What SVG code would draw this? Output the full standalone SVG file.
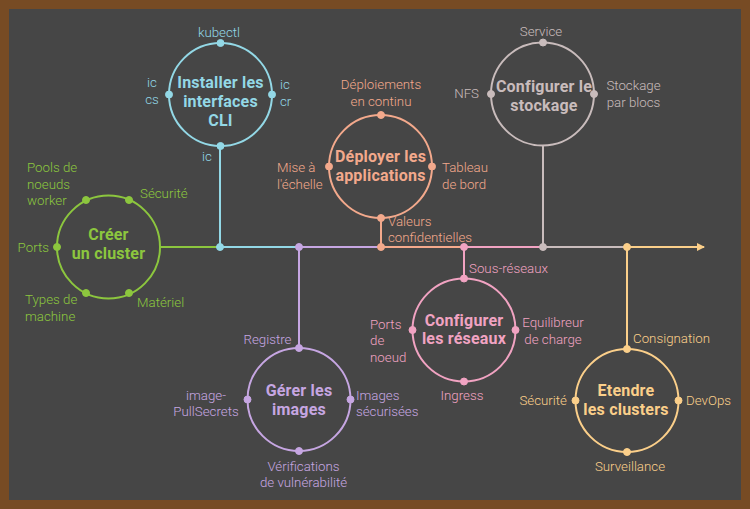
<svg xmlns="http://www.w3.org/2000/svg" width="750" height="509" viewBox="0 0 750 509">
<defs>
<style>
.lbl{font-family:Roboto,"Liberation Sans",sans-serif;font-size:13.3px;font-weight:300}
.ttl{font-family:Roboto,"Liberation Sans",sans-serif;font-size:16px;letter-spacing:0.2px;font-weight:bold;text-anchor:middle}
.ring{fill:none;stroke-width:2}
.ln{fill:none;stroke-width:2}
.m{text-anchor:middle}.e{text-anchor:end}
.cy{fill:#93d8e6;stroke:#93d8e6}.gr{fill:#8cc63e;stroke:#8cc63e}.or{fill:#f3a98c;stroke:#f3a98c}
.gy{fill:#c9bcbc;stroke:#c9bcbc}.lv{fill:#c6a6e2;stroke:#c6a6e2}.pk{fill:#f1a3c2;stroke:#f1a3c2}.yl{fill:#fbcf8a;stroke:#fbcf8a}
text{stroke:none}
</style>
<marker id="arr" viewBox="0 0 8 8" refX="7" refY="4" markerWidth="8" markerHeight="8" markerUnits="userSpaceOnUse" orient="auto">
<path d="M0,0 L8,4 L0,8 Z" fill="#fbcf8a"/>
</marker>
</defs>
<rect x="0" y="0" width="750" height="509" fill="#774b24"/>
<rect x="9" y="9" width="732" height="491" fill="#464646"/>

<g id="connectors">
<line class="ln gr" x1="160" y1="247" x2="220" y2="247"/>
<line class="ln cy" x1="220" y1="247" x2="299" y2="247"/>
<line class="ln lv" x1="299" y1="247" x2="381" y2="247"/>
<line class="ln or" x1="381" y1="247" x2="464" y2="247"/>
<line class="ln pk" x1="464" y1="247" x2="543" y2="247"/>
<line class="ln gy" x1="543" y1="247" x2="627" y2="247"/>
<line class="ln yl" x1="627" y1="247" x2="704" y2="247" marker-end="url(#arr)"/>
<line class="ln cy" x1="220" y1="146" x2="220" y2="247"/>
<line class="ln or" x1="381" y1="218" x2="381" y2="247"/>
<line class="ln gy" x1="543" y1="146" x2="543" y2="247"/>
<line class="ln lv" x1="299" y1="247" x2="299" y2="348"/>
<line class="ln pk" x1="464" y1="247" x2="464" y2="278"/>
<line class="ln yl" x1="627" y1="247" x2="627" y2="349"/>
<circle class="cy" cx="220" cy="247" r="3.5"/>
<circle class="lv" cx="299" cy="247" r="3.5"/>
<circle class="or" cx="381" cy="247" r="3.5"/>
<circle class="pk" cx="464" cy="247" r="3.5"/>
<circle class="gy" cx="543" cy="247" r="3.5"/>
<circle class="yl" cx="627" cy="247" r="3.5"/>
</g>

<g id="node-creer-cluster" class="gr">
<circle class="ring" cx="108.5" cy="247" r="51.5"/>
<circle cx="86" cy="200" r="3.5"/><circle cx="129" cy="200" r="3.5"/><circle cx="57" cy="247" r="3.5"/>
<circle cx="86" cy="293" r="3.5"/><circle cx="129" cy="293" r="3.5"/>
<text class="ttl" x="108.5" y="239.5">Créer</text>
<text class="ttl" x="108.5" y="258.5">un cluster</text>
<text class="lbl" x="27" y="171.5">Pools de</text>
<text class="lbl" x="27" y="188.5">noeuds</text>
<text class="lbl" x="27" y="204.5">worker</text>
<text class="lbl" x="140" y="197.5">Sécurité</text>
<text class="lbl e" x="49" y="251.5">Ports</text>
<text class="lbl" x="25" y="303.5">Types de</text>
<text class="lbl" x="25" y="320.5">machine</text>
<text class="lbl" x="137" y="306.5">Matériel</text>
</g>

<g id="node-installer-cli" class="cy">
<circle class="ring" cx="220.5" cy="94.5" r="51.5"/>
<circle cx="220.5" cy="43" r="3.5"/><circle cx="169" cy="94.5" r="3.5"/><circle cx="272" cy="94.5" r="3.5"/><circle cx="220.5" cy="146" r="3.5"/>
<text class="ttl" x="220.5" y="88">Installer les</text>
<text class="ttl" x="220.5" y="107">interfaces</text>
<text class="ttl" x="220.5" y="125.5">CLI</text>
<text class="lbl m" x="219" y="36.5">kubectl</text>
<text class="lbl m" x="152" y="87">ic</text>
<text class="lbl m" x="152" y="104">cs</text>
<text class="lbl" x="280" y="89">ic</text>
<text class="lbl" x="280" y="106">cr</text>
<text class="lbl m" x="207" y="161">ic</text>
</g>

<g id="node-deployer-applications" class="or">
<circle class="ring" cx="380.5" cy="166.5" r="51.5"/>
<circle cx="381" cy="115" r="3.5"/><circle cx="329" cy="166.5" r="3.5"/><circle cx="432" cy="166.5" r="3.5"/><circle cx="381" cy="218" r="3.5"/>
<text class="ttl" x="380.5" y="162">Déployer les</text>
<text class="ttl" x="380.5" y="181">applications</text>
<text class="lbl m" x="381" y="88.5">Déploiements</text>
<text class="lbl m" x="381" y="105.5">en continu</text>
<text class="lbl" x="277" y="171.5">Mise à</text>
<text class="lbl" x="277" y="188.5">l'échelle</text>
<text class="lbl" x="442" y="171.5">Tableau</text>
<text class="lbl" x="442" y="188.5">de bord</text>
<text class="lbl" x="388" y="226">Valeurs</text>
<text class="lbl" x="388" y="241.5">confidentielles</text>
</g>

<g id="node-configurer-stockage" class="gy">
<circle class="ring" cx="542.5" cy="94" r="51.5"/>
<circle cx="543" cy="42.5" r="3.5"/><circle cx="491" cy="94" r="3.5"/><circle cx="594" cy="94" r="3.5"/>
<text class="ttl" x="544" y="92">Configurer le</text>
<text class="ttl" x="544" y="111">stockage</text>
<text class="lbl m" x="541" y="35.5">Service</text>
<text class="lbl e" x="479" y="97.5">NFS</text>
<text class="lbl m" x="633.5" y="89.5">Stockage</text>
<text class="lbl m" x="633.5" y="106.5">par blocs</text>
</g>

<g id="node-gerer-images" class="lv">
<circle class="ring" cx="299" cy="399.5" r="51.5"/>
<circle cx="299" cy="348" r="3.5"/><circle cx="247.5" cy="399.5" r="3.5"/><circle cx="350.5" cy="399.5" r="3.5"/><circle cx="299" cy="451" r="3.5"/>
<text class="ttl" x="299" y="396">Gérer les</text>
<text class="ttl" x="299" y="415">images</text>
<text class="lbl e" x="291.5" y="343.5">Registre</text>
<text class="lbl m" x="206" y="399.5">image-</text>
<text class="lbl m" x="206" y="416">PullSecrets</text>
<text class="lbl" x="356" y="399.5">Images</text>
<text class="lbl" x="356" y="416">sécurisées</text>
<text class="lbl m" x="303.5" y="470.5">Vérifications</text>
<text class="lbl m" x="303.5" y="486.5">de vulnérabilité</text>
</g>

<g id="node-configurer-reseaux" class="pk">
<circle class="ring" cx="464" cy="330" r="51.5"/>
<circle cx="464" cy="278.5" r="3.5"/><circle cx="412.5" cy="330" r="3.5"/><circle cx="515.5" cy="330" r="3.5"/><circle cx="464" cy="381.5" r="3.5"/>
<text class="ttl" x="464" y="325.5">Configurer</text>
<text class="ttl" x="464" y="344">les réseaux</text>
<text class="lbl" x="469" y="273">Sous-réseaux</text>
<text class="lbl" x="370" y="328.5">Ports</text>
<text class="lbl" x="370" y="345">de</text>
<text class="lbl" x="370" y="361.5">noeud</text>
<text class="lbl m" x="553" y="327">Equilibreur</text>
<text class="lbl m" x="553" y="343.5">de charge</text>
<text class="lbl m" x="462" y="400">Ingress</text>
</g>

<g id="node-etendre-clusters" class="yl">
<circle class="ring" cx="627" cy="400.5" r="51.5"/>
<circle cx="627" cy="349" r="3.5"/><circle cx="575.5" cy="400.5" r="3.5"/><circle cx="678.5" cy="400.5" r="3.5"/><circle cx="627" cy="452" r="3.5"/>
<text class="ttl" x="626" y="396">Etendre</text>
<text class="ttl" x="626" y="415">les clusters</text>
<text class="lbl" x="633" y="342.5">Consignation</text>
<text class="lbl e" x="567" y="405">Sécurité</text>
<text class="lbl" x="686" y="404.5">DevOps</text>
<text class="lbl m" x="630" y="470.5">Surveillance</text>
</g>
</svg>
